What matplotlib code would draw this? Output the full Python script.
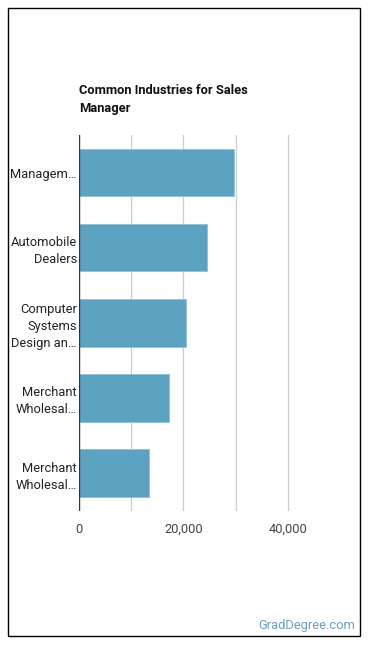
import matplotlib
matplotlib.use("Agg")
import matplotlib.pyplot as plt
from matplotlib.patches import Rectangle

plt.rcParams["font.family"] = ["Roboto", "DejaVu Sans"]

industries = ["Managem…", "Automobile\nDealers", "Computer\nSystems\nDesign an…",
              "Merchant\nWholesal…", "Merchant\nWholesal…"]
workers = [29700, 24500, 20500, 17300, 13500]
ticks = [0, 20000, 40000]
tick_labels = ["0", "20,000", "40,000"]

fig = plt.figure(figsize=(3.7, 6.48), dpi=100)
ax = fig.add_axes([79 / 370, 1 - 510.7 / 648, 261 / 370, (510.7 - 135) / 648])

# gridlines (light) and baseline (dark)
for g in [10000, 20000, 30000, 40000]:
    ax.axvline(g, color="#cccccc", lw=0.9, zorder=0)
ax.axvline(0, color="#333333", lw=1.0, zorder=3)

y = range(len(industries))
ax.barh(y, workers, height=0.63, color="#5ca3c1", edgecolor="#8fc2d6", lw=0.6, zorder=2)

ax.set_xlim(0, 50000)
ax.set_ylim(len(industries) - 0.5, -0.5)
ax.set_yticks(list(y))
ax.set_yticklabels(industries, fontsize=9.3, color="#222222", linespacing=1.4)
ax.set_xticks(ticks)
ax.set_xticklabels(tick_labels, fontsize=9.3, color="#444444")
ax.tick_params(length=0, axis="y", pad=1.5)
ax.tick_params(length=0, axis="x", pad=9)
for s in ax.spines.values():
    s.set_visible(False)

fig.text(79 / 370, 1 - 84.5 / 648, "Common Industries for Sales\nManager", fontsize=9.3,
         fontweight="bold", color="#111111", va="top", ha="left", linespacing=1.45)
fig.text(355 / 370, 1 - 626 / 648, "GradDegree.com", fontsize=9.3, color="#6b9fbf",
         ha="right", va="center")

fig.patches.append(Rectangle((8 / 370, 1 - 636 / 648), 352 / 370, 628 / 648,
                             transform=fig.transFigure, fill=False, ec="black", lw=1.0))

fig.savefig("out.png", dpi=100)
